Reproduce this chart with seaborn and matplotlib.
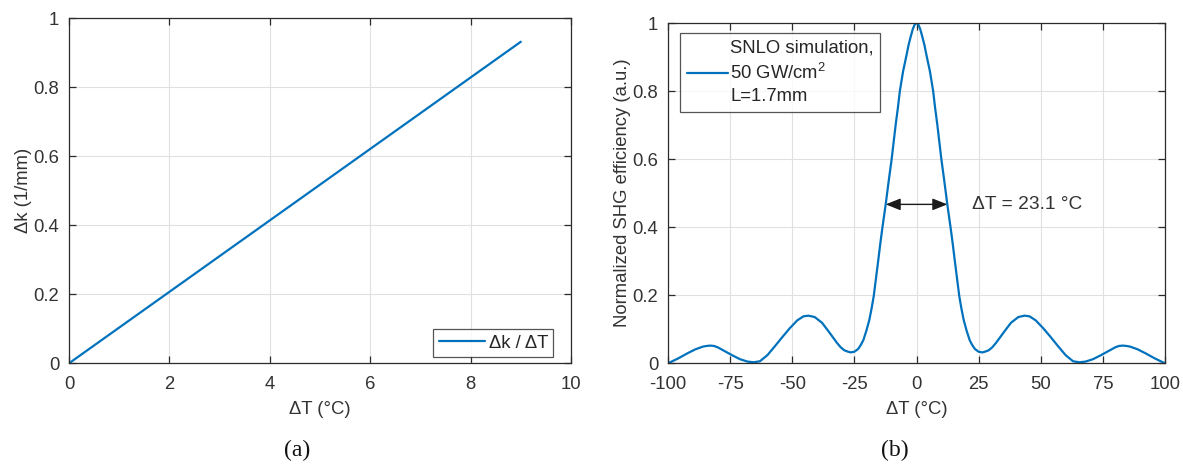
import numpy as np
import pandas as pd
import matplotlib
matplotlib.use("Agg")
import matplotlib.pyplot as plt
import seaborn as sns

# (a) phase mismatch versus temperature detuning
dk_temp = [0.0, 9.0]
dk_values = [0.0, 0.932]

# (b) simulated normalized SHG efficiency versus temperature detuning
shg_temp = [
    -100, -98, -96, -94, -92, -89, -86, -84.5, -83, -81.5, -80, -77, -74, -71,
    -68, -65.5, -63, -60, -57, -54, -51, -48, -45.5, -43.5, -41, -38, -35,
    -32, -30.5, -29, -27.5, -26.5, -25, -23.5, -22.4, -21.4, -20.2, -19, -18.1,
    -17.2, -16.3, -15.4, -14.6, -13.75, -12.4, -11.2, -10, -9.2, -8.4, -7.5,
    -6.7, -5.4, -4, -3.2, -2.4, -1.5, -0.7, 0,
    0.7, 1.5, 2.4, 3.2, 4, 5.4, 6.7, 7.5, 8.4, 9.2, 10, 11.2, 12.4, 13.75,
    14.6, 15.4, 16.3, 17.2, 18.1, 19, 20.2, 21.4, 22.4, 23.5, 25, 26.5, 27.5,
    29, 30.5, 32, 35, 38, 41, 43.5, 45.5, 48, 51, 54, 57, 60, 63, 65.5, 68,
    71, 74, 77, 80, 81.5, 83, 84.5, 86, 89, 92, 94, 96, 98, 100,
]
shg_eff = [
    0.000, 0.007, 0.014, 0.022, 0.030, 0.041, 0.049, 0.051, 0.052, 0.051,
    0.047, 0.035, 0.023, 0.012, 0.005, 0.003, 0.006, 0.024, 0.050, 0.077,
    0.103, 0.126, 0.138, 0.140, 0.136, 0.119, 0.090, 0.060, 0.047, 0.038,
    0.034, 0.032, 0.034, 0.042, 0.054, 0.068, 0.095, 0.127, 0.160, 0.198,
    0.250, 0.302, 0.350, 0.397, 0.467, 0.535, 0.600, 0.650, 0.700, 0.750,
    0.800, 0.858, 0.906, 0.935, 0.958, 0.982, 0.996, 1.000,
    0.996, 0.982, 0.958, 0.935, 0.906, 0.858, 0.800, 0.750, 0.700, 0.650,
    0.600, 0.535, 0.467, 0.397, 0.350, 0.302, 0.250, 0.198, 0.160, 0.127,
    0.095, 0.068, 0.054, 0.042, 0.034, 0.032, 0.034, 0.038, 0.047, 0.060,
    0.090, 0.119, 0.136, 0.140, 0.138, 0.126, 0.103, 0.077, 0.050, 0.024,
    0.006, 0.003, 0.005, 0.012, 0.023, 0.035, 0.047, 0.051, 0.052, 0.051,
    0.049, 0.041, 0.030, 0.022, 0.014, 0.007, 0.000,
]

# acceptance bandwidth marker
fwhm_ends = [-12.4, 12.4]
fwhm_level = 0.467
fwhm_label = "\u0394T = 23.1 \u00b0C"

left_xticks = [0, 2, 4, 6, 8, 10]
right_xticks = [-100, -75, -50, -25, 0, 25, 50, 75, 100]
yticks = [0, 0.2, 0.4, 0.6, 0.8, 1]
ytick_labels = ["0", "0.2", "0.4", "0.6", "0.8", "1"]

sns.set_theme(style="white")
plt.rcParams["font.family"] = ["Liberation Sans", "DejaVu Sans"]
plt.rcParams["mathtext.fontset"] = "custom"
plt.rcParams["mathtext.rm"] = "Liberation Sans"

LINE = "#0072BD"
INK = "#333333"
AXC = "#2b2b2b"
FS = 13.3

fig = plt.figure(figsize=(11.83, 4.68), dpi=100)
ax1 = fig.add_axes([69 / 1183, 104.7 / 468, 502 / 1183, 345 / 468])
ax2 = fig.add_axes([668 / 1183, 104.7 / 468, 497 / 1183, 340.3 / 468])

df_a = pd.DataFrame({"T": dk_temp, "dk": dk_values})
df_b = pd.DataFrame({"T": shg_temp, "eff": shg_eff})

sns.lineplot(data=df_a, x="T", y="dk", ax=ax1, color=LINE, lw=1.6,
             label="\u0394k / \u0394T", sort=False)
sns.lineplot(data=df_b, x="T", y="eff", ax=ax2, color=LINE, lw=1.6,
             label="SNLO simulation,\n50 GW/cm$^2$\nL=1.7mm", sort=False)


def style_axes(ax, xticks, xlim):
    ax.set_xlim(*xlim)
    ax.set_ylim(0, 1)
    ax.set_xticks(xticks)
    ax.set_xticklabels([str(t) for t in xticks])
    ax.set_yticks(yticks)
    ax.set_yticklabels(ytick_labels)
    ax.grid(True, color="#e0e0e0", lw=0.8)
    ax.set_axisbelow(True)
    for s in ax.spines.values():
        s.set_color(AXC)
        s.set_linewidth(0.9)
    ax.tick_params(direction="in", length=5, width=0.9, colors=AXC,
                   labelcolor=INK, labelsize=FS, top=True, right=True,
                   bottom=True, left=True, pad=7)
    ax.tick_params(axis="x", pad=9)
    ax.set_xlabel("\u0394T (\u00b0C)", fontsize=FS, color=INK, labelpad=6)


style_axes(ax1, left_xticks, (0, 10))
style_axes(ax2, right_xticks, (-100, 100))
ax1.set_ylabel("\u0394k (1/mm)", fontsize=FS, color=INK, labelpad=1)
ax2.set_ylabel("Normalized SHG efficiency (a.u.)", fontsize=FS, color=INK,
               labelpad=1)

leg1 = ax1.legend(loc="lower right", bbox_to_anchor=(0.965, 0.018),
                  fontsize=FS, frameon=True, fancybox=False, handlelength=2.5,
                  handletextpad=0.2, borderpad=0.3, borderaxespad=0)
leg1.get_frame().set_edgecolor(AXC)
leg1.get_frame().set_linewidth(0.9)

leg2 = ax2.legend(loc="upper left", bbox_to_anchor=(0.025, 0.97),
                  fontsize=FS, frameon=True, fancybox=False, handlelength=2.2,
                  handletextpad=0.15, borderpad=0.35, borderaxespad=0)
leg2.get_frame().set_edgecolor(AXC)
leg2.get_frame().set_linewidth(0.9)
for t in leg2.get_texts():
    t.set_linespacing(1.4)

ax2.annotate("", xy=(fwhm_ends[0], fwhm_level), xytext=(fwhm_ends[1], fwhm_level),
             arrowprops=dict(arrowstyle="<|-|>,head_length=0.75,head_width=0.3",
                             color="#1a1a1a", lw=1.0, shrinkA=0, shrinkB=0))
ax2.text(22.5, fwhm_level, fwhm_label, fontsize=FS + 0.5, color=INK,
         ha="left", va="center")

fig.text(297 / 1183, 1 - 450 / 468, "(a)", fontsize=17, color="#111111",
         family="Liberation Serif", ha="center", va="center")
fig.text(895 / 1183, 1 - 450 / 468, "(b)", fontsize=17, color="#111111",
         family="Liberation Serif", ha="center", va="center")

fig.savefig("out.png", dpi=100)
